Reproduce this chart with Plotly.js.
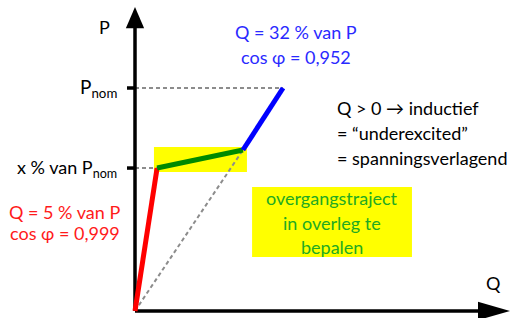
<!DOCTYPE html>
<html>
<head>
<meta charset="utf-8">
<script src="https://cdn.plot.ly/plotly-3.0.1.min.js"></script>
<style>
html,body{margin:0;padding:0;background:#fff;}
#chart{width:512px;height:318px;}
</style>
</head>
<body>
<div id="chart"></div>
<script>
// Q (horizontal) and P (vertical), P_nom = 1
const Q_red = [0, 0.099];
const P_red = [0, 0.641];
const Q_green = [0.099, 0.484];
const P_green = [0.641, 0.722];
const Q_blue = [0.484, 0.664];
const P_blue = [0.722, 1.0];
const P_nom = 1.0;
const P_x = 0.641;
const Q_axisEnd = 1.682;
const P_axisEnd = 1.363;
const tickLabels = ["P<sub>nom</sub>", "x % van P<sub>nom</sub>"];

const FONT = "Lato, 'Open Sans', sans-serif";
const grey = "#8c8c8c";

const traces = [
  // dashed helper lines
  {x:[0, Q_blue[1]], y:[P_nom, P_nom], mode:'lines', line:{color:grey, width:2, dash:'4px,3px'}, hoverinfo:'skip'},
  {x:[0, Q_red[1]], y:[P_x, P_x], mode:'lines', line:{color:grey, width:2, dash:'4px,3px'}, hoverinfo:'skip'},
  {x:[0, Q_green[1]], y:[0, P_green[1]], mode:'lines', line:{color:grey, width:2, dash:'4px,3px'}, hoverinfo:'skip'},
  // axes
  {x:[0, 0], y:[0, P_axisEnd - 0.09], mode:'lines', line:{color:'#000', width:3.5}, hoverinfo:'skip'},
  {x:[0, Q_axisEnd - 0.14], y:[0, 0], mode:'lines', line:{color:'#000', width:3.5}, hoverinfo:'skip'},
  // ticks
  {x:[-0.036, 0], y:[P_nom, P_nom], mode:'lines', line:{color:'#000', width:3.5}, hoverinfo:'skip'},
  {x:[-0.036, 0], y:[P_x, P_x], mode:'lines', line:{color:'#000', width:3.5}, hoverinfo:'skip'},
  // curve
  {x:Q_red, y:P_red, mode:'lines', line:{color:'#ff0000', width:5}, hoverinfo:'skip'},
  {x:Q_green, y:P_green, mode:'lines', line:{color:'#008a00', width:5}, hoverinfo:'skip'},
  {x:Q_blue, y:P_blue, mode:'lines', line:{color:'#0000ff', width:5}, hoverinfo:'skip'}
];

const shapes = [
  {type:'rect', xref:'x', yref:'y', x0:0.085, x1:0.502, y0:0.623, y1:0.735, fillcolor:'#ffff00', line:{width:0}, layer:'below'},
  {type:'rect', xref:'x', yref:'y', x0:0.525, x1:1.242, y0:0.242, y1:0.556, fillcolor:'#ffff00', line:{width:0}, layer:'below'},
  // arrowheads
  {type:'path', xref:'x', yref:'y', path:`M -0.041 ${P_axisEnd-0.095} L 0.041 ${P_axisEnd-0.095} L 0 ${P_axisEnd} Z`, fillcolor:'#000', line:{width:0}},
  {type:'path', xref:'x', yref:'y', path:`M ${Q_axisEnd-0.144} -0.041 L ${Q_axisEnd-0.144} 0.041 L ${Q_axisEnd} 0 Z`, fillcolor:'#000', line:{width:0}}
];

function ann(x, y, text, color, xanchor, size) {
  return {x:x, y:y, xref:'x', yref:'y', text:text, showarrow:false, xanchor:xanchor||'center', yanchor:'middle',
          font:{family:FONT, size:size||18, color:color||'#000'}};
}

const annotations = [
  ann(-0.135, 1.274, 'P', '#000', 'center', 18),
  ann(1.606, 0.126, 'Q', '#000', 'center', 18),
  ann(-0.07, P_nom, tickLabels[0], '#000', 'right', 19),
  ann(-0.07, P_x, tickLabels[1], '#000', 'right', 18),
  ann(-0.316, 0.444, 'Q = 5 % van P', '#ff1a1a', 'center', 18),
  ann(-0.316, 0.350, 'cos φ = 0,999', '#ff1a1a', 'center', 18),
  ann(0.722, 1.251, 'Q = 32 % van P', '#2a2aff', 'center', 18),
  ann(0.722, 1.139, 'cos φ = 0,952', '#2a2aff', 'center', 18),
  ann(0.897, 0.910, 'Q &gt; 0 → inductief', '#000', 'left', 18),
  ann(0.897, 0.798, '= “underexcited”', '#000', 'left', 18),
  ann(0.897, 0.686, '= spanningsverlagend', '#000', 'left', 18),
  ann(0.883, 0.507, 'overgangstraject', '#22aa22', 'center', 18),
  ann(0.883, 0.395, 'in overleg te', '#22aa22', 'center', 18),
  ann(0.883, 0.287, 'bepalen', '#22aa22', 'center', 18)
];

const layout = {
  width:512, height:318,
  margin:{l:0, r:0, t:0, b:0},
  paper_bgcolor:'#fff', plot_bgcolor:'#fff',
  showlegend:false,
  xaxis:{range:[-0.6054, 1.6906], visible:false, fixedrange:true},
  yaxis:{range:[-0.0314, 1.3946], visible:false, fixedrange:true},
  shapes:shapes,
  annotations:annotations,
  font:{family:FONT}
};

Plotly.newPlot('chart', traces, layout, {displayModeBar:false, staticPlot:true});
</script>
</body>
</html>
